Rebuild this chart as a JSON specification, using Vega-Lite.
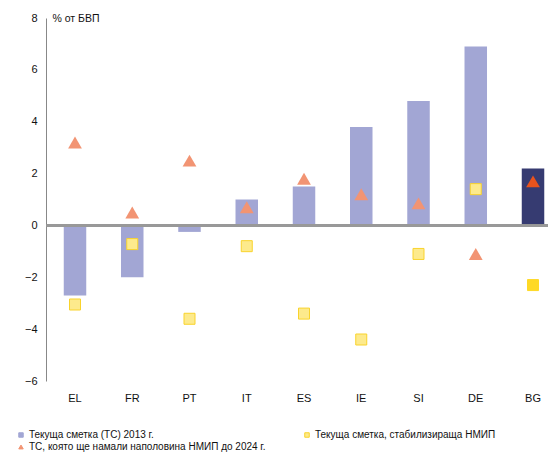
{
  "$schema": "https://vega.github.io/schema/vega-lite/v6.json",
  "width": 502,
  "height": 363,
  "autosize": {"type": "none"},
  "padding": {"left": 46, "top": 18, "right": 0, "bottom": 71},
  "background": "white",
  "config": {
    "font": "Liberation Sans",
    "view": {"stroke": null},
    "axis": {"grid": false, "ticks": false}
  },
  "data": {
    "values": [
      {"country": "EL", "series": "Текуща сметка (ТС) 2013 г.", "value": -2.7},
      {"country": "FR", "series": "Текуща сметка (ТС) 2013 г.", "value": -2.0},
      {"country": "PT", "series": "Текуща сметка (ТС) 2013 г.", "value": -0.25},
      {"country": "IT", "series": "Текуща сметка (ТС) 2013 г.", "value": 1.0},
      {"country": "ES", "series": "Текуща сметка (ТС) 2013 г.", "value": 1.5},
      {"country": "IE", "series": "Текуща сметка (ТС) 2013 г.", "value": 3.8},
      {"country": "SI", "series": "Текуща сметка (ТС) 2013 г.", "value": 4.8},
      {"country": "DE", "series": "Текуща сметка (ТС) 2013 г.", "value": 6.9},
      {"country": "BG", "series": "Текуща сметка (ТС) 2013 г.", "value": 2.2},
      {"country": "EL", "series": "Текуща сметка, стабилизираща НМИП", "value": -3.05},
      {"country": "FR", "series": "Текуща сметка, стабилизираща НМИП", "value": -0.72},
      {"country": "PT", "series": "Текуща сметка, стабилизираща НМИП", "value": -3.6},
      {"country": "IT", "series": "Текуща сметка, стабилизираща НМИП", "value": -0.8},
      {"country": "ES", "series": "Текуща сметка, стабилизираща НМИП", "value": -3.4},
      {"country": "IE", "series": "Текуща сметка, стабилизираща НМИП", "value": -4.4},
      {"country": "SI", "series": "Текуща сметка, стабилизираща НМИП", "value": -1.1},
      {"country": "DE", "series": "Текуща сметка, стабилизираща НМИП", "value": 1.4},
      {"country": "BG", "series": "Текуща сметка, стабилизираща НМИП", "value": -2.3},
      {"country": "EL", "series": "ТС, която ще намали наполовина НМИП до 2024 г.", "value": 3.2},
      {"country": "FR", "series": "ТС, която ще намали наполовина НМИП до 2024 г.", "value": 0.5},
      {"country": "PT", "series": "ТС, която ще намали наполовина НМИП до 2024 г.", "value": 2.5},
      {"country": "IT", "series": "ТС, която ще намали наполовина НМИП до 2024 г.", "value": 0.7},
      {"country": "ES", "series": "ТС, която ще намали наполовина НМИП до 2024 г.", "value": 1.8},
      {"country": "IE", "series": "ТС, която ще намали наполовина НМИП до 2024 г.", "value": 1.2},
      {"country": "SI", "series": "ТС, която ще намали наполовина НМИП до 2024 г.", "value": 0.85},
      {"country": "DE", "series": "ТС, която ще намали наполовина НМИП до 2024 г.", "value": -1.1},
      {"country": "BG", "series": "ТС, която ще намали наполовина НМИП до 2024 г.", "value": 1.7}
    ]
  },
  "encoding": {
    "x": {
      "field": "country",
      "type": "nominal",
      "sort": null,
      "scale": {"paddingInner": 0.607, "paddingOuter": 0.1877, "align": 0.826, "round": false},
      "axis": {
        "title": null,
        "domain": false,
        "labelAngle": 0,
        "labelFontSize": 11,
        "labelColor": "#111111",
        "labelPadding": 11
      }
    },
    "y": {
      "field": "value",
      "type": "quantitative",
      "scale": {"domain": [-6, 8], "nice": false, "zero": false},
      "axis": {
        "values": [-6, -4, -2, 0, 2, 4, 6, 8],
        "title": "% от БВП",
        "titleAngle": 0,
        "titleAlign": "left",
        "titleBaseline": "middle",
        "titleX": 6,
        "titleY": 0,
        "titleFontSize": 10.5,
        "titleFontWeight": "normal",
        "titleColor": "#111111",
        "domainColor": "#888888",
        "domainWidth": 1,
        "labelFontSize": 11,
        "labelColor": "#111111",
        "labelPadding": 9
      }
    }
  },
  "layer": [
    {
      "transform": [{"filter": "datum.series === 'Текуща сметка (ТС) 2013 г.'"}],
      "mark": {"type": "bar"},
      "encoding": {
        "color": {
          "condition": {"test": "datum.country === 'BG'", "value": "#363b71"},
          "field": "series",
          "type": "nominal",
          "scale": {
            "domain": ["Текуща сметка (ТС) 2013 г.", "ТС, която ще намали наполовина НМИП до 2024 г.", "Текуща сметка, стабилизираща НМИП"],
            "range": ["#a2a6d4", "#f29473", "#fdea8c"]
          },
          "legend": {
            "title": null,
            "orient": "none",
            "legendX": -30,
            "legendY": 412,
            "columns": 2,
            "columnPadding": 36,
            "rowPadding": 2,
            "padding": 0,
            "symbolSize": 20,
            "symbolStrokeWidth": 1,
            "labelFontSize": 10,
            "labelColor": "#111111",
            "labelOffset": 3,
            "labelLimit": 400
          }
        }
      }
    },
    {
      "mark": {"type": "rule", "color": "#999999", "strokeWidth": 1.5},
      "encoding": {"y": {"datum": 0}, "x": null}
    },
    {
      "transform": [{"filter": "datum.series === 'Текуща сметка, стабилизираща НМИП'"}],
      "mark": {"type": "point", "filled": true, "size": 121, "opacity": 1, "strokeWidth": 1},
      "encoding": {
        "color": {
          "condition": {"test": "datum.country === 'BG'", "value": "#fed926"},
          "field": "series",
          "type": "nominal"
        },
        "stroke": {
          "condition": {"test": "datum.country === 'BG'", "value": "#fed926"},
          "field": "series",
          "type": "nominal",
          "scale": {
            "domain": ["Текуща сметка (ТС) 2013 г.", "ТС, която ще намали наполовина НМИП до 2024 г.", "Текуща сметка, стабилизираща НМИП"],
            "range": ["#a2a6d4", "#f29473", "#f9d32c"]
          }
        },
        "shape": {
          "field": "series",
          "type": "nominal",
          "scale": {
            "domain": ["Текуща сметка (ТС) 2013 г.", "ТС, която ще намали наполовина НМИП до 2024 г.", "Текуща сметка, стабилизираща НМИП"],
            "range": ["square", "triangle-up", "square"]
          }
        }
      }
    },
    {
      "transform": [{"filter": "datum.series === 'ТС, която ще намали наполовина НМИП до 2024 г.'"}],
      "mark": {"type": "point", "filled": true, "size": 190, "opacity": 1, "strokeWidth": 0},
      "encoding": {
        "color": {
          "condition": {"test": "datum.country === 'BG'", "value": "#e9531d"},
          "field": "series",
          "type": "nominal"
        },
        "shape": {"field": "series", "type": "nominal"}
      }
    }
  ]
}
